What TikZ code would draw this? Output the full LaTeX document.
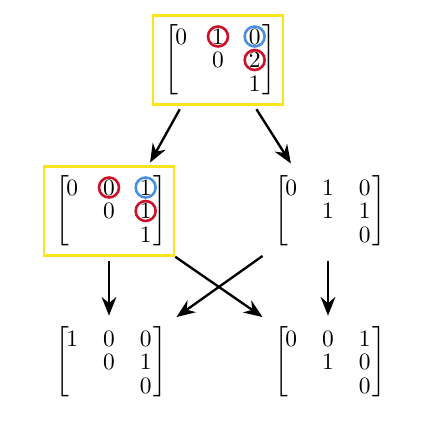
\documentclass[tikz,border=0pt]{standalone}
\usepackage{amsmath, amssymb}
\usepackage{tikz}
\usetikzlibrary{matrix, arrows.meta, calc, positioning}
\usepackage{xcolor}
\definecolor{hlyellow}{RGB}{250,228,30}
\definecolor{ringred}{RGB}{204,16,40}
\definecolor{ringblue}{RGB}{74,144,226}

\tikzset{
  box/.style={minimum width=1.95cm, minimum height=1.335cm, inner sep=0pt},
  hilite/.style={box, draw=hlyellow, line width=1.1pt},
  every left delimiter/.style={xshift=0.12cm},
  every right delimiter/.style={xshift=-0.06cm},
  mat/.style={matrix of math nodes, inner xsep=0pt, inner ysep=1pt, column sep=0.3cm,
    left delimiter={[}, right delimiter={]},
    nodes={minimum width=0.25cm, minimum height=0.3525cm, inner sep=0pt}},
  redring/.style={draw=ringred, line width=1.1pt},
  bluering/.style={draw=ringblue, line width=1.1pt},
  arr/.style={-{Stealth[length=2.8mm, width=2.2mm]}, line width=1pt}
}

\begin{document}
\begin{tikzpicture}
\useasboundingbox (0,0) rectangle (6.6,-6.6);

% frames
\node[hilite] (topbox) at (3.27,-0.9) {};
\node[hilite] (midlbox) at (1.635,-3.165) {};
\node[box] (midrbox) at (4.92,-3.165) {};
\node[box] (botlbox) at (1.635,-5.43) {};
\node[box] (botrbox) at (4.92,-5.43) {};

% matrices
\matrix[mat] (top) at (topbox) {
  0 & 1 & 0 \\
    & 0 & 2 \\
    &   & 1 \\
};
\matrix[mat] (midl) at (midlbox) {
  0 & 0 & 1 \\
    & 0 & 1 \\
    &   & 1 \\
};
\matrix[mat] (midr) at (midrbox) {
  0 & 1 & 0 \\
    & 1 & 1 \\
    &   & 0 \\
};
\matrix[mat] (botl) at (botlbox) {
  1 & 0 & 0 \\
    & 0 & 1 \\
    &   & 0 \\
};
\matrix[mat] (botr) at (botrbox) {
  0 & 0 & 1 \\
    & 1 & 0 \\
    &   & 0 \\
};

% rings
\draw[redring] (top-1-2) circle (0.15);
\draw[bluering] (top-1-3) circle (0.15);
\draw[redring] (top-2-3) circle (0.15);
\draw[redring] (midl-1-2) circle (0.15);
\draw[bluering] (midl-1-3) circle (0.15);
\draw[redring] (midl-2-3) circle (0.15);

% arrows
\draw[arr, shorten <=0.06cm, shorten >=0.045cm]
  ([xshift=0.45cm]topbox.south west) -- ([xshift=-0.4cm]midlbox.north east);
\draw[arr, shorten <=0.06cm, shorten >=0.045cm]
  ([xshift=-0.45cm]topbox.south east) -- ([xshift=0.45cm]midrbox.north west);
\draw[arr, shorten <=0.07cm, shorten >=0.02cm] (midlbox.south) -- (botlbox.north);
\draw[arr, shorten <=0.07cm, shorten >=0.02cm] (midrbox.south) -- (botrbox.north);
\draw[arr] (midlbox.south east) -- (botrbox.north west);
\draw[arr] (midrbox.south west) -- ([xshift=0.03cm]botlbox.north east);
\end{tikzpicture}
\end{document}
